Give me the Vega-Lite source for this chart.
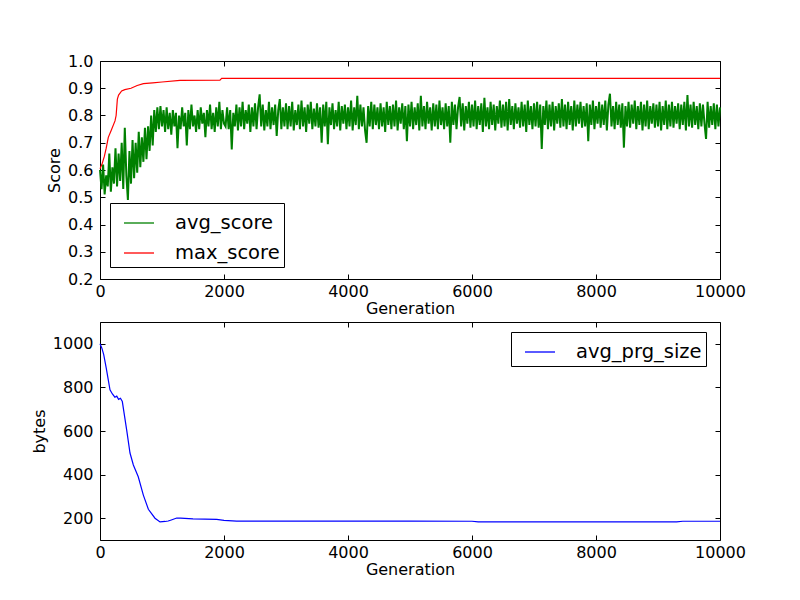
{
  "$schema": "https://vega.github.io/schema/vega-lite/v6.json",
  "background": "white",
  "padding": {"left": 30, "top": 52, "right": 80, "bottom": 20},
  "spacing": 4,
  "config": {
    "font": "DejaVu Sans",
    "view": {"stroke": "black", "strokeWidth": 1},
    "axis": {
      "grid": false, "domain": false, "labelFlush": false, "labelOverlap": false,
      "tickColor": "black", "tickSize": -5, "tickWidth": 1,
      "labelFont": "DejaVu Sans", "labelFontSize": 16, "labelColor": "black",
      "titleFont": "DejaVu Sans", "titleFontSize": 16, "titleFontWeight": "normal", "titleColor": "black"
    },
    "axisX": {"labelPadding": 9, "titlePadding": 1},
    "axisY": {"labelPadding": 12, "titlePadding": 5},
    "legend": {
      "orient": "none", "symbolType": "stroke", "symbolSize": 900, "symbolStrokeWidth": 1.3, "symbolOffset": 9,
      "labelFont": "DejaVu Sans", "labelFontSize": 19.5, "labelColor": "black", "labelOffset": 20,
      "strokeColor": "black", "fillColor": "white", "padding": 4, "rowPadding": 4, "cornerRadius": 0
    }
  },
  "datasets": {
    "avg": [
      {"g":0,"v":0.60},{"g":25,"v":0.53},{"g":50,"v":0.62},{"g":75,"v":0.51},{"g":100,"v":0.58},{"g":125,"v":0.54},{"g":150,"v":0.66},{"g":175,"v":0.52},{"g":200,"v":0.61},{"g":225,"v":0.55},
      {"g":250,"v":0.68},{"g":275,"v":0.54},{"g":300,"v":0.66},{"g":325,"v":0.56},{"g":350,"v":0.70},{"g":375,"v":0.53},{"g":400,"v":0.755},{"g":425,"v":0.58},{"g":450,"v":0.49},{"g":475,"v":0.67},{"g":500,"v":0.55},{"g":525,"v":0.71},{"g":550,"v":0.57},
      {"g":575,"v":0.70},{"g":600,"v":0.59},{"g":625,"v":0.74},{"g":650,"v":0.61},{"g":675,"v":0.72},{"g":700,"v":0.63},{"g":725,"v":0.755},{"g":750,"v":0.64},{"g":775,"v":0.76},
      {"g":800,"v":0.67},{"g":825,"v":0.80},{"g":850,"v":0.69},{"g":875,"v":0.82},
      {"g":900,"v":0.74},{"g":925,"v":0.83},{"g":950,"v":0.75},{"g":975,"v":0.835},{"g":1000,"v":0.76},{"g":1025,"v":0.82},{"g":1050,"v":0.74},{"g":1075,"v":0.83},{"g":1100,"v":0.75},{"g":1125,"v":0.81},{"g":1150,"v":0.73},{"g":1175,"v":0.82},{"g":1200,"v":0.76},
      {"g":1225,"v":0.81},{"g":1250,"v":0.68},{"g":1275,"v":0.80},{"g":1300,"v":0.75},{"g":1325,"v":0.83},{"g":1350,"v":0.76},{"g":1375,"v":0.81},{"g":1400,"v":0.69},{"g":1425,"v":0.82},{"g":1450,"v":0.75},{"g":1475,"v":0.84},{"g":1500,"v":0.76},{"g":1525,"v":0.80},{"g":1550,"v":0.74},{"g":1575,"v":0.82},{"g":1600,"v":0.75},
      {"g":1625,"v":0.83},{"g":1650,"v":0.77},{"g":1675,"v":0.81},{"g":1700,"v":0.72},{"g":1725,"v":0.82},{"g":1750,"v":0.76},{"g":1775,"v":0.84},{"g":1800,"v":0.75},{"g":1825,"v":0.81},{"g":1850,"v":0.74},{"g":1875,"v":0.83},{"g":1900,"v":0.76},{"g":1925,"v":0.85},{"g":1950,"v":0.75},{"g":1975,"v":0.82},{"g":2000,"v":0.77},
      {"g":2025,"v":0.76},{"g":2050,"v":0.83},{"g":2075,"v":0.75},{"g":2100,"v":0.82},{"g":2125,"v":0.675},{"g":2150,"v":0.81},{"g":2175,"v":0.76},{"g":2200,"v":0.84},{"g":2225,"v":0.745},{"g":2250,"v":0.83},{"g":2275,"v":0.76},{"g":2300,"v":0.85},{"g":2325,"v":0.75},{"g":2350,"v":0.82},{"g":2375,"v":0.77},{"g":2400,"v":0.84},{"g":2425,"v":0.74},{"g":2450,"v":0.83},{"g":2475,"v":0.76},{"g":2500,"v":0.845},
      {"g":2525,"v":0.75},{"g":2550,"v":0.83},{"g":2575,"v":0.878},{"g":2600,"v":0.76},{"g":2625,"v":0.84},{"g":2650,"v":0.745},{"g":2675,"v":0.82},{"g":2700,"v":0.76},{"g":2725,"v":0.85},{"g":2750,"v":0.75},{"g":2775,"v":0.83},{"g":2800,"v":0.765},{"g":2825,"v":0.84},{"g":2850,"v":0.725},{"g":2875,"v":0.82},{"g":2900,"v":0.86},{"g":2925,"v":0.75},{"g":2950,"v":0.83},{"g":2975,"v":0.76},{"g":3000,"v":0.845},
      {"g":3025,"v":0.75},{"g":3050,"v":0.835},{"g":3075,"v":0.76},{"g":3100,"v":0.85},{"g":3125,"v":0.745},{"g":3150,"v":0.82},{"g":3175,"v":0.765},{"g":3200,"v":0.84},{"g":3225,"v":0.75},{"g":3250,"v":0.855},{"g":3275,"v":0.76},{"g":3300,"v":0.83},{"g":3325,"v":0.74},{"g":3350,"v":0.84},{"g":3375,"v":0.77},{"g":3400,"v":0.85},{"g":3425,"v":0.75},{"g":3450,"v":0.825},{"g":3475,"v":0.76},{"g":3500,"v":0.845},
      {"g":3525,"v":0.755},{"g":3550,"v":0.83},{"g":3575,"v":0.70},{"g":3600,"v":0.84},{"g":3625,"v":0.76},{"g":3650,"v":0.85},{"g":3675,"v":0.695},{"g":3700,"v":0.83},{"g":3725,"v":0.765},{"g":3750,"v":0.845},{"g":3775,"v":0.75},{"g":3800,"v":0.82},{"g":3825,"v":0.76},{"g":3850,"v":0.85},{"g":3875,"v":0.745},{"g":3900,"v":0.835},{"g":3925,"v":0.77},{"g":3950,"v":0.84},{"g":3975,"v":0.75},{"g":4000,"v":0.83},
      {"g":4025,"v":0.76},{"g":4050,"v":0.855},{"g":4075,"v":0.745},{"g":4100,"v":0.83},{"g":4125,"v":0.765},{"g":4150,"v":0.872},{"g":4175,"v":0.75},{"g":4200,"v":0.84},{"g":4225,"v":0.76},{"g":4250,"v":0.83},{"g":4275,"v":0.745},{"g":4300,"v":0.70},{"g":4325,"v":0.835},{"g":4350,"v":0.76},{"g":4375,"v":0.85},{"g":4400,"v":0.75},{"g":4425,"v":0.84},{"g":4450,"v":0.765},{"g":4475,"v":0.83},{"g":4500,"v":0.75},
      {"g":4525,"v":0.845},{"g":4550,"v":0.76},{"g":4575,"v":0.83},{"g":4600,"v":0.74},{"g":4625,"v":0.85},{"g":4650,"v":0.765},{"g":4675,"v":0.835},{"g":4700,"v":0.75},{"g":4725,"v":0.84},{"g":4750,"v":0.76},{"g":4775,"v":0.855},{"g":4800,"v":0.745},{"g":4825,"v":0.83},{"g":4850,"v":0.77},{"g":4875,"v":0.845},{"g":4900,"v":0.75},{"g":4925,"v":0.835},{"g":4950,"v":0.706},{"g":4975,"v":0.84},{"g":5000,"v":0.76},
      {"g":5025,"v":0.85},{"g":5050,"v":0.75},{"g":5075,"v":0.83},{"g":5100,"v":0.765},{"g":5125,"v":0.845},{"g":5150,"v":0.745},{"g":5175,"v":0.872},{"g":5200,"v":0.76},{"g":5225,"v":0.835},{"g":5250,"v":0.75},{"g":5275,"v":0.85},{"g":5300,"v":0.77},{"g":5325,"v":0.83},{"g":5350,"v":0.745},{"g":5375,"v":0.845},{"g":5400,"v":0.76},{"g":5425,"v":0.84},{"g":5450,"v":0.75},{"g":5475,"v":0.855},{"g":5500,"v":0.765},
      {"g":5525,"v":0.83},{"g":5550,"v":0.75},{"g":5575,"v":0.845},{"g":5600,"v":0.76},{"g":5625,"v":0.835},{"g":5650,"v":0.70},{"g":5675,"v":0.85},{"g":5700,"v":0.765},{"g":5725,"v":0.84},{"g":5750,"v":0.75},{"g":5775,"v":0.83},{"g":5800,"v":0.868},{"g":5825,"v":0.76},{"g":5850,"v":0.845},{"g":5875,"v":0.745},{"g":5900,"v":0.835},{"g":5925,"v":0.77},{"g":5950,"v":0.85},{"g":5975,"v":0.755},{"g":6000,"v":0.84},
      {"g":6025,"v":0.76},{"g":6050,"v":0.855},{"g":6075,"v":0.75},{"g":6100,"v":0.835},{"g":6125,"v":0.765},{"g":6150,"v":0.845},{"g":6175,"v":0.74},{"g":6200,"v":0.865},{"g":6225,"v":0.76},{"g":6250,"v":0.83},{"g":6275,"v":0.75},{"g":6300,"v":0.85},{"g":6325,"v":0.765},{"g":6350,"v":0.84},{"g":6375,"v":0.745},{"g":6400,"v":0.835},{"g":6425,"v":0.77},{"g":6450,"v":0.855},{"g":6475,"v":0.755},{"g":6500,"v":0.84},
      {"g":6525,"v":0.76},{"g":6550,"v":0.85},{"g":6575,"v":0.745},{"g":6600,"v":0.86},{"g":6625,"v":0.765},{"g":6650,"v":0.835},{"g":6675,"v":0.75},{"g":6700,"v":0.845},{"g":6725,"v":0.77},{"g":6750,"v":0.83},{"g":6775,"v":0.755},{"g":6800,"v":0.85},{"g":6825,"v":0.76},{"g":6850,"v":0.84},{"g":6875,"v":0.74},{"g":6900,"v":0.855},{"g":6925,"v":0.765},{"g":6950,"v":0.835},{"g":6975,"v":0.75},{"g":7000,"v":0.845},
      {"g":7025,"v":0.76},{"g":7050,"v":0.85},{"g":7075,"v":0.755},{"g":7100,"v":0.84},{"g":7125,"v":0.677},{"g":7150,"v":0.835},{"g":7175,"v":0.765},{"g":7200,"v":0.855},{"g":7225,"v":0.75},{"g":7250,"v":0.84},{"g":7275,"v":0.76},{"g":7300,"v":0.85},{"g":7325,"v":0.745},{"g":7350,"v":0.835},{"g":7375,"v":0.77},{"g":7400,"v":0.845},{"g":7425,"v":0.755},{"g":7450,"v":0.86},{"g":7475,"v":0.76},{"g":7500,"v":0.84},
      {"g":7525,"v":0.75},{"g":7550,"v":0.85},{"g":7575,"v":0.765},{"g":7600,"v":0.835},{"g":7625,"v":0.745},{"g":7650,"v":0.855},{"g":7675,"v":0.76},{"g":7700,"v":0.84},{"g":7725,"v":0.77},{"g":7750,"v":0.85},{"g":7775,"v":0.755},{"g":7800,"v":0.835},{"g":7825,"v":0.76},{"g":7850,"v":0.845},{"g":7875,"v":0.706},{"g":7900,"v":0.84},{"g":7925,"v":0.765},{"g":7950,"v":0.855},{"g":7975,"v":0.75},{"g":8000,"v":0.835},
      {"g":8025,"v":0.77},{"g":8050,"v":0.85},{"g":8075,"v":0.755},{"g":8100,"v":0.84},{"g":8125,"v":0.765},{"g":8150,"v":0.855},{"g":8175,"v":0.745},{"g":8200,"v":0.84},{"g":8225,"v":0.88},{"g":8250,"v":0.76},{"g":8275,"v":0.835},{"g":8300,"v":0.75},{"g":8325,"v":0.85},{"g":8350,"v":0.765},{"g":8375,"v":0.84},{"g":8400,"v":0.755},{"g":8425,"v":0.845},{"g":8450,"v":0.682},{"g":8475,"v":0.835},{"g":8500,"v":0.76},
      {"g":8525,"v":0.85},{"g":8550,"v":0.755},{"g":8575,"v":0.84},{"g":8600,"v":0.77},{"g":8625,"v":0.855},{"g":8650,"v":0.75},{"g":8675,"v":0.835},{"g":8700,"v":0.765},{"g":8725,"v":0.85},{"g":8750,"v":0.745},{"g":8775,"v":0.84},{"g":8800,"v":0.76},{"g":8825,"v":0.855},{"g":8850,"v":0.75},{"g":8875,"v":0.835},{"g":8900,"v":0.77},{"g":8925,"v":0.845},{"g":8950,"v":0.755},{"g":8975,"v":0.84},{"g":9000,"v":0.76},
      {"g":9025,"v":0.85},{"g":9050,"v":0.745},{"g":9075,"v":0.835},{"g":9100,"v":0.765},{"g":9125,"v":0.855},{"g":9150,"v":0.75},{"g":9175,"v":0.84},{"g":9200,"v":0.76},{"g":9225,"v":0.85},{"g":9250,"v":0.755},{"g":9275,"v":0.835},{"g":9300,"v":0.77},{"g":9325,"v":0.845},{"g":9350,"v":0.75},{"g":9375,"v":0.84},{"g":9400,"v":0.765},{"g":9425,"v":0.85},{"g":9450,"v":0.745},{"g":9475,"v":0.875},{"g":9500,"v":0.76},
      {"g":9525,"v":0.84},{"g":9550,"v":0.755},{"g":9575,"v":0.85},{"g":9600,"v":0.765},{"g":9625,"v":0.835},{"g":9650,"v":0.75},{"g":9675,"v":0.845},{"g":9700,"v":0.76},{"g":9725,"v":0.84},{"g":9750,"v":0.77},{"g":9775,"v":0.714},{"g":9800,"v":0.85},{"g":9825,"v":0.755},{"g":9850,"v":0.835},{"g":9875,"v":0.765},{"g":9900,"v":0.845},{"g":9925,"v":0.75},{"g":9950,"v":0.84},{"g":9975,"v":0.76},{"g":10000,"v":0.83}
    ],
    "max": [
      {"g":0,"v":0.605},{"g":30,"v":0.62},{"g":70,"v":0.65},{"g":100,"v":0.68},{"g":134,"v":0.72},{"g":180,"v":0.745},{"g":242,"v":0.78},{"g":260,"v":0.80},{"g":280,"v":0.86},{"g":300,"v":0.875},{"g":349,"v":0.89},{"g":400,"v":0.895},{"g":500,"v":0.90},{"g":600,"v":0.91},{"g":700,"v":0.917},{"g":850,"v":0.92},{"g":1000,"v":0.923},{"g":1290,"v":0.929},{"g":1935,"v":0.930},{"g":1962,"v":0.936},{"g":10000,"v":0.936}
    ],
    "size": [
      {"g":0,"v":1000},{"g":30,"v":980},{"g":60,"v":950},{"g":100,"v":890},{"g":161,"v":789},{"g":200,"v":770},{"g":240,"v":755},{"g":270,"v":760},{"g":300,"v":745},{"g":330,"v":750},{"g":360,"v":735},{"g":430,"v":605},{"g":484,"v":499},{"g":538,"v":444},{"g":617,"v":390},{"g":699,"v":306},{"g":780,"v":241},{"g":887,"v":200},{"g":968,"v":183},{"g":1050,"v":185},{"g":1100,"v":187},{"g":1150,"v":192},{"g":1237,"v":201},{"g":1300,"v":200},{"g":1500,"v":197},{"g":1882,"v":195},{"g":2000,"v":190},{"g":2204,"v":187},{"g":3000,"v":187},{"g":4000,"v":187},{"g":5000,"v":187},{"g":6000,"v":186},{"g":6100,"v":183},{"g":7000,"v":183},{"g":8000,"v":183},{"g":9300,"v":183},{"g":9400,"v":186},{"g":10000,"v":186}
    ]
  },
  "vconcat": [
    {
      "width": 620,
      "height": 218,
      "layer": [
        {
          "data": {"name": "avg"},
          "mark": {"type": "line", "strokeWidth": 2},
          "encoding": {
            "x": {"field": "g", "type": "quantitative", "scale": {"domain": [0, 10000], "nice": false},
                  "axis": {"orient": "bottom", "values": [0, 2000, 4000, 6000, 8000, 10000], "format": "d", "title": "Generation"}},
            "y": {"field": "v", "type": "quantitative", "scale": {"domain": [0.2, 1.0], "nice": false, "zero": false},
                  "axis": {"orient": "left", "values": [0.2, 0.3, 0.4, 0.5, 0.6, 0.7, 0.8, 0.9, 1.0], "format": ".1f", "title": "Score"}},
            "color": {"datum": "avg_score", "type": "nominal",
                      "scale": {"domain": ["avg_score", "max_score"], "range": ["#008000", "#ff0000"]},
                      "legend": {"title": null, "legendX": 10, "legendY": 142}}
          }
        },
        {
          "data": {"name": "max"},
          "mark": {"type": "line", "strokeWidth": 1.2},
          "encoding": {
            "x": {"field": "g", "type": "quantitative", "scale": {"domain": [0, 10000], "nice": false},
                  "axis": {"orient": "top", "values": [0, 2000, 4000, 6000, 8000, 10000], "labels": false, "title": null}},
            "y": {"field": "v", "type": "quantitative", "scale": {"domain": [0.2, 1.0], "nice": false, "zero": false},
                  "axis": {"orient": "right", "values": [0.2, 0.3, 0.4, 0.5, 0.6, 0.7, 0.8, 0.9, 1.0], "labels": false, "title": null}},
            "color": {"datum": "max_score", "type": "nominal"}
          }
        }
      ],
      "resolve": {"axis": {"x": "independent", "y": "independent"}}
    },
    {
      "width": 620,
      "height": 218,
      "layer": [
        {
          "data": {"name": "size"},
          "mark": {"type": "line", "strokeWidth": 1.2},
          "encoding": {
            "x": {"field": "g", "type": "quantitative", "scale": {"domain": [0, 10000], "nice": false},
                  "axis": {"orient": "bottom", "values": [0, 2000, 4000, 6000, 8000, 10000], "format": "d", "title": "Generation"}},
            "y": {"field": "v", "type": "quantitative", "scale": {"domain": [100, 1100], "nice": false, "zero": false},
                  "axis": {"orient": "left", "values": [200, 400, 600, 800, 1000], "format": "d", "title": "bytes"}},
            "color": {"datum": "avg_prg_size", "type": "nominal",
                      "scale": {"domain": ["avg_prg_size"], "range": ["#0000ff"]},
                      "legend": {"title": null, "legendX": 411, "legendY": 10}}
          }
        },
        {
          "data": {"name": "size"},
          "mark": {"type": "line", "strokeOpacity": 0},
          "encoding": {
            "x": {"field": "g", "type": "quantitative", "scale": {"domain": [0, 10000], "nice": false},
                  "axis": {"orient": "top", "values": [0, 2000, 4000, 6000, 8000, 10000], "labels": false, "title": null}},
            "y": {"field": "v", "type": "quantitative", "scale": {"domain": [100, 1100], "nice": false, "zero": false},
                  "axis": {"orient": "right", "values": [200, 400, 600, 800, 1000], "labels": false, "title": null}}
          }
        }
      ],
      "resolve": {"axis": {"x": "independent", "y": "independent"}}
    }
  ],
  "resolve": {"scale": {"color": "independent"}, "legend": {"color": "independent"}}
}
